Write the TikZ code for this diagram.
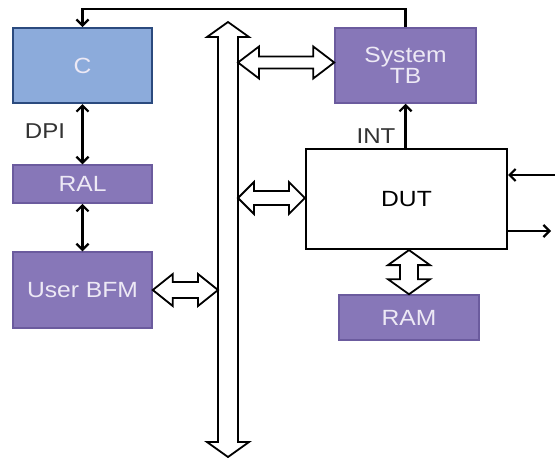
\documentclass[tikz,border=0pt]{standalone}
\usepackage{fontspec}
\setmainfont{Liberation Sans}
\newfontfamily\lab[FakeStretch=1.12]{Liberation Sans}
\usetikzlibrary{arrows.meta,calc}

\definecolor{cpuBlue}{HTML}{8CABDB}
\definecolor{cpuEdge}{HTML}{2B4A7E}
\definecolor{tbPurple}{HTML}{8777B8}
\definecolor{tbEdge}{HTML}{6B5B9E}
\definecolor{boxText}{HTML}{EDE9F5}
\definecolor{labText}{HTML}{333333}

% horizontal double block arrow: #1 left tip, #2 right tip, #3 shaft half-width, #4 head half-width, #5 head length
\newcommand\hbiarrow[5]{%
  \draw[blk] (#1) -- ++(#5,-#4) -- ++(0,#4-#3) -- ($(#2)+(-#5,-#3)$) -- ++(0,#3-#4)
    -- (#2) -- ++(-#5,#4) -- ++(0,#3-#4) -- ($(#1)+(#5,#3)$) -- ++(0,#4-#3) -- cycle;}
% vertical double block arrow: #1 top tip, #2 bottom tip, same size arguments
\newcommand\vbiarrow[5]{%
  \draw[blk] (#1) -- ++(-#4,#5) -- ++(#4-#3,0) -- ($(#2)+(-#3,-#5)$) -- ++(#3-#4,0)
    -- (#2) -- ++(#4,-#5) -- ++(#3-#4,0) -- ($(#1)+(#3,#5)$) -- ++(#4-#3,0) -- cycle;}

\tikzset{
  box/.style={draw, line width=1.5pt, inner sep=0pt, align=center, font=\lab\fontsize{22}{24}\selectfont},
  cpu/.style={box, fill=cpuBlue, draw=cpuEdge, text=boxText, line width=2pt},
  tb/.style={box, fill=tbPurple, draw=tbEdge, text=boxText},
  dutbox/.style={box, fill=white, draw=black, text=black, line width=2.2pt},
  conn/.style={line width=2.4pt, -{Straight Barb[length=6pt,width=12pt,line width=2.2pt]}},
  biconn/.style={conn, {Straight Barb[length=6pt,width=12pt,line width=2.2pt]}-{Straight Barb[length=6pt,width=12pt,line width=2.2pt]}},
  blk/.style={draw=black, fill=white, line width=1.8pt, line join=miter},
  lbl/.style={text=labText, font=\lab\fontsize{21.5}{23}\selectfont, inner sep=0pt}
}

\begin{document}
\begin{tikzpicture}[x=1pt,y=-1pt]
\useasboundingbox (0,0) rectangle (555,458);

% blocks
\node[cpu, minimum width=139pt, minimum height=75pt] (c) at (82.5,65.5) {C};
\node[tb, minimum width=139pt, minimum height=38pt] (ral) at (82.5,184) {RAL};
\node[tb, minimum width=139pt, minimum height=76pt] (bfm) at (82.5,290) {User BFM};
\node[tb, minimum width=141pt, minimum height=75pt] (stb) at (405.5,65.5) {System\\[-3pt]TB};
\node[dutbox, minimum width=201pt, minimum height=100pt] (dut) at (406.5,199) {DUT};
\node[tb, minimum width=140pt, minimum height=45pt] (ram) at (409,317.5) {RAM};

% shared bus
\coordinate (bustop) at (228,22);
\coordinate (busbot) at (228,457);
\vbiarrow{bustop}{busbot}{10}{21}{15}

% bus attachments
\coordinate (busR1) at (238,62.5);
\coordinate (busR2) at (238,198);
\coordinate (busL) at (218,290);
\hbiarrow{busR1}{stb.west |- busR1}{6}{16}{21}
\hbiarrow{busR2}{dut.west |- busR2}{7}{16}{16}
\hbiarrow{bfm.east |- busL}{busL}{8}{16}{20}
\vbiarrow{dut.south -| ram}{ram.north}{9}{21}{15}

% signal connectors
\coordinate (fbk) at (405.5,9);
\draw[conn] (stb.north) -- (fbk) -| (c.north);
\draw[biconn] (c.south) -- (ral.north);
\draw[biconn] (ral.south) -- (bfm.north);
\draw[conn] (dut.north -| stb) -- (stb.south);
\node[lbl] (dpi) at (45,131) {DPI};
\node[lbl] (int) at (376,136) {INT};

% DUT pins
\coordinate (pinIn) at (555,175);
\coordinate (pinOut) at (551,231);
\draw[conn] (pinIn) -- (pinIn -| dut.east);
\draw[conn] (pinOut -| dut.east) -- (pinOut);
\end{tikzpicture}
\end{document}
